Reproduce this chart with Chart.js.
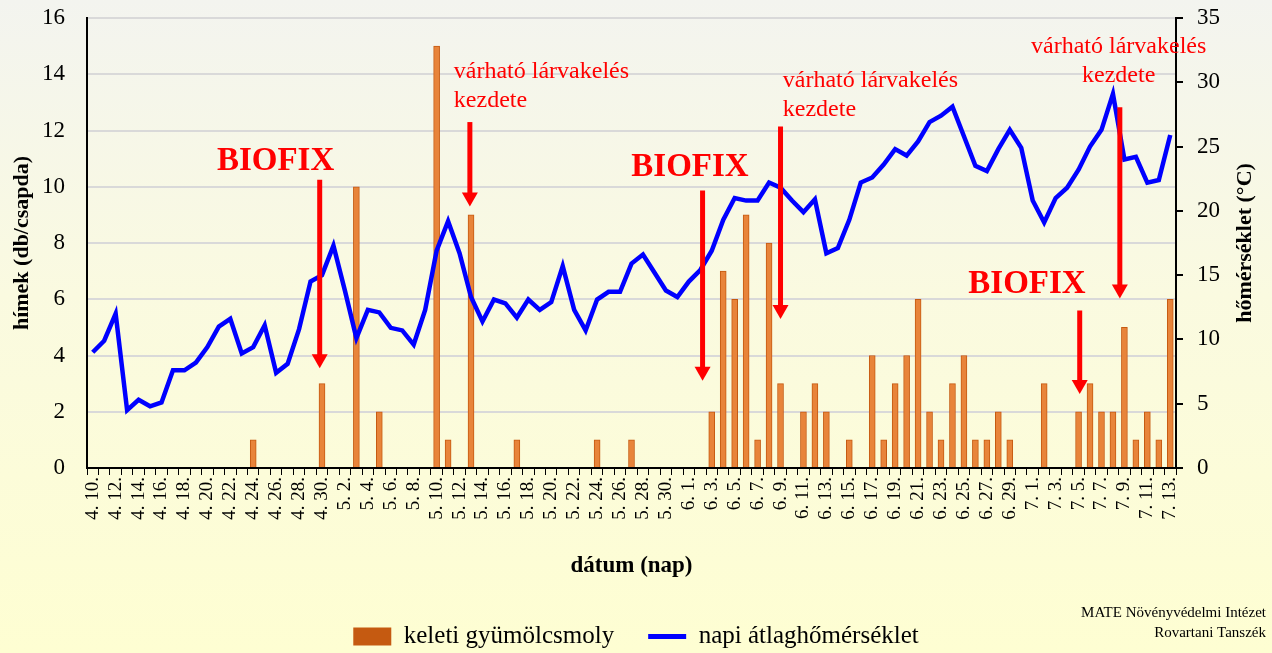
<!DOCTYPE html>
<html>
<head>
<meta charset="utf-8">
<script src="https://cdn.jsdelivr.net/npm/chart.js@4"></script>
<style>
  html, body { margin: 0; padding: 0; background: #fbfbe0; }
  #myChart { display: block; }
</style>
</head>
<body>
<canvas id="myChart" width="1272" height="653"></canvas>
<script>
// dátum (nap) - napi kategóriák
var dates = [
  '4. 10.', '4. 11.', '4. 12.', '4. 13.', '4. 14.', '4. 15.', '4. 16.', '4. 17.', '4. 18.', '4. 19.',
  '4. 20.', '4. 21.', '4. 22.', '4. 23.', '4. 24.', '4. 25.', '4. 26.', '4. 27.', '4. 28.', '4. 29.',
  '4. 30.', '5. 1.', '5. 2.', '5. 3.', '5. 4.', '5. 5.', '5. 6.', '5. 7.', '5. 8.', '5. 9.',
  '5. 10.', '5. 11.', '5. 12.', '5. 13.', '5. 14.', '5. 15.', '5. 16.', '5. 17.', '5. 18.', '5. 19.',
  '5. 20.', '5. 21.', '5. 22.', '5. 23.', '5. 24.', '5. 25.', '5. 26.', '5. 27.', '5. 28.', '5. 29.',
  '5. 30.', '5. 31.', '6. 1.', '6. 2.', '6. 3.', '6. 4.', '6. 5.', '6. 6.', '6. 7.', '6. 8.',
  '6. 9.', '6. 10.', '6. 11.', '6. 12.', '6. 13.', '6. 14.', '6. 15.', '6. 16.', '6. 17.', '6. 18.',
  '6. 19.', '6. 20.', '6. 21.', '6. 22.', '6. 23.', '6. 24.', '6. 25.', '6. 26.', '6. 27.', '6. 28.',
  '6. 29.', '6. 30.', '7. 1.', '7. 2.', '7. 3.', '7. 4.', '7. 5.', '7. 6.', '7. 7.', '7. 8.',
  '7. 9.', '7. 10.', '7. 11.', '7. 12.', '7. 13.'
];

// keleti gyümölcsmoly hímek (db/csapda)
var males = [
  0, 0, 0, 0, 0, 0, 0, 0, 0, 0,
  0, 0, 0, 0, 1, 0, 0, 0, 0, 0,
  3, 0, 0, 10, 0, 2, 0, 0, 0, 0,
  15, 1, 0, 9, 0, 0, 0, 1, 0, 0,
  0, 0, 0, 0, 1, 0, 0, 1, 0, 0,
  0, 0, 0, 0, 2, 7, 6, 9, 1, 8,
  3, 0, 2, 3, 2, 0, 1, 0, 4, 1,
  3, 4, 6, 2, 1, 3, 4, 1, 1, 2,
  1, 0, 0, 3, 0, 0, 2, 3, 2, 2,
  5, 1, 2, 1, 6
];

// napi átlaghőmérséklet (°C)
var temps = [
  9.0, 9.9, 12.0, 4.5, 5.3, 4.8, 5.1, 7.6, 7.6, 8.2,
  9.4, 11.0, 11.6, 8.9, 9.4, 11.1, 7.4, 8.1, 10.8, 14.5,
  15.0, 17.3, 13.8, 10.1, 12.3, 12.1, 10.9, 10.7, 9.6, 12.3,
  16.9, 19.2, 16.7, 13.3, 11.4, 13.1, 12.8, 11.7, 13.1, 12.3,
  12.9, 15.7, 12.3, 10.7, 13.1, 13.7, 13.7, 15.9, 16.6, 15.2,
  13.8, 13.3, 14.5, 15.4, 16.9, 19.3, 21.0, 20.8, 20.8, 22.2,
  21.8, 20.8, 19.9, 20.9, 16.7, 17.1, 19.3, 22.2, 22.6, 23.6,
  24.8, 24.3, 25.4, 26.9, 27.4, 28.1, 25.8, 23.5, 23.1, 24.8,
  26.3, 24.9, 20.8, 19.1, 21.0, 21.8, 23.2, 25.0, 26.3, 29.1,
  24.0, 24.2, 22.2, 22.4, 25.9
];

// nyilak: kategória index, kezdő és végérték (bal tengely)
var arrows = [
  { at: 19.8, from: 10.25, to: 3.55 },
  { at: 32.9, from: 12.3, to: 9.3 },
  { at: 53.2, from: 9.87, to: 3.1 },
  { at: 60.0, from: 12.14, to: 5.3 },
  { at: 86.1, from: 5.6, to: 2.63 },
  { at: 89.6, from: 12.83, to: 6.03 }
];

var biofixLabels = [
  { at: 15.95, y: 10.91 },
  { at: 52.1, y: 10.68 },
  { at: 81.5, y: 6.53 }
];

var larvaLabels = [
  { at: 31.5, y: 13.88, align: 'left' },
  { at: 60.2, y: 13.54, align: 'left' },
  { at: 89.5, y: 14.75, align: 'center' }
];

var serif = "'Liberation Serif', 'Times New Roman', serif";
Chart.defaults.font.family = serif;
Chart.defaults.color = '#000';

var bgPlugin = {
  id: 'bg',
  beforeDraw: function(chart) {
    var ctx = chart.ctx;
    var g = ctx.createLinearGradient(0, 0, 0, chart.height);
    g.addColorStop(0, '#f3f4ef');
    g.addColorStop(0.45, '#fafae0');
    g.addColorStop(1, '#fefed2');
    ctx.save();
    ctx.fillStyle = g;
    ctx.fillRect(0, 0, chart.width, chart.height);
    ctx.restore();
  }
};

var notesPlugin = {
  id: 'notes',
  afterDatasetsDraw: function(chart) {
    var ctx = chart.ctx;
    var xs = chart.scales.x, ys = chart.scales.y;
    ctx.save();
    ctx.fillStyle = '#ff0000';
    ctx.strokeStyle = '#ff0000';

    arrows.forEach(function(a) {
      var x = xs.getPixelForValue(a.at);
      var y0 = ys.getPixelForValue(a.from);
      var y1 = ys.getPixelForValue(a.to);
      ctx.lineWidth = 5;
      ctx.beginPath();
      ctx.moveTo(x, y0);
      ctx.lineTo(x, y1 - 12);
      ctx.stroke();
      ctx.beginPath();
      ctx.moveTo(x - 8, y1 - 14);
      ctx.lineTo(x + 8, y1 - 14);
      ctx.lineTo(x, y1);
      ctx.closePath();
      ctx.fill();
    });

    ctx.font = 'bold 33px ' + serif;
    ctx.textAlign = 'center';
    ctx.textBaseline = 'middle';
    biofixLabels.forEach(function(b) {
      ctx.fillText('BIOFIX', xs.getPixelForValue(b.at), ys.getPixelForValue(b.y));
    });

    ctx.font = '24px ' + serif;
    ctx.textBaseline = 'alphabetic';
    larvaLabels.forEach(function(l) {
      var x = xs.getPixelForValue(l.at);
      var y = ys.getPixelForValue(l.y);
      ctx.textAlign = l.align;
      ctx.fillText('várható lárvakelés', x, y);
      ctx.fillText('kezdete', x, y + 29);
    });
    ctx.restore();
  },
  afterDraw: function(chart) {
    var ctx = chart.ctx;
    var area = chart.chartArea;
    ctx.save();
    // jobb tengely címe, alulról felfelé
    ctx.fillStyle = '#000';
    ctx.font = 'bold 22px ' + serif;
    ctx.textAlign = 'center';
    ctx.textBaseline = 'middle';
    ctx.translate(1245, (area.top + area.bottom) / 2);
    ctx.rotate(-Math.PI / 2);
    ctx.fillText('hőmérséklet (°C)', 0, 0);
    ctx.restore();

    ctx.save();
    ctx.fillStyle = '#000';
    ctx.font = '15px ' + serif;
    ctx.textAlign = 'right';
    ctx.textBaseline = 'middle';
    ctx.fillText('MATE Növényvédelmi Intézet', 1266, 613);
    ctx.fillText('Rovartani Tanszék', 1266, 633);
    ctx.restore();
  }
};

// a függőleges tengelyek ne kérjenek extra helyet felül/alul
function fixVertical(width) {
  return function(s) {
    s.width = width;
    s.paddingTop = 0;
    s.paddingBottom = 0;
  };
}

var ctx = document.getElementById('myChart').getContext('2d');
var chart = new Chart(ctx, {
  type: 'bar',
  data: {
    labels: dates,
    datasets: [{
      type: 'bar',
      label: 'keleti gyümölcsmoly',
      data: males,
      yAxisID: 'y',
      order: 2,
      backgroundColor: '#e8843a',
      borderColor: '#c55a11',
      borderWidth: { left: 1, right: 1, top: 1, bottom: 0 },
      barThickness: 6,
      pointStyle: 'rect'
    }, {
      type: 'line',
      label: 'napi átlaghőmérséklet',
      data: temps,
      yAxisID: 'y1',
      order: 1,
      borderColor: '#0000ff',
      backgroundColor: '#0000ff',
      borderWidth: 4.5,
      pointRadius: 0,
      tension: 0,
      fill: false,
      pointStyle: 'line'
    }]
  },
  options: {
    responsive: false,
    animation: false,
    devicePixelRatio: 1,
    layout: { padding: { top: 18, left: 0, right: 0, bottom: -6 } },
    plugins: {
      legend: {
        position: 'bottom',
        labels: {
          usePointStyle: true,
          pointStyleWidth: 38,
          boxHeight: 18,
          padding: 34,
          color: '#000',
          font: { size: 25, family: serif },
          generateLabels: function(chart) {
            var items = Chart.defaults.plugins.legend.labels.generateLabels(chart);
            items.sort(function(a, b) { return a.datasetIndex - b.datasetIndex; });
            items.forEach(function(it) {
              if (it.datasetIndex === 0) {
                it.fillStyle = '#c55a11';
                it.strokeStyle = '#c55a11';
                it.lineWidth = 0;
                it.pointStyle = 'rect';
              } else {
                it.strokeStyle = '#0000ff';
                it.fillStyle = '#0000ff';
                it.lineWidth = 5;
                it.pointStyle = 'line';
              }
            });
            return items;
          }
        }
      },
      tooltip: { enabled: false }
    },
    scales: {
      x: {
        offset: true,
        grid: {
          offset: true,
          drawOnChartArea: false,
          drawTicks: true,
          tickLength: 7,
          color: '#000',
          lineWidth: 1
        },
        border: { color: '#000', width: 2 },
        ticks: {
          autoSkip: false,
          minRotation: 90,
          maxRotation: 90,
          padding: 2,
          color: '#000',
          font: { size: 19, family: serif },
          callback: function(v, i) { return i % 2 === 0 ? dates[i] : ''; }
        },
        title: {
          display: true,
          text: 'dátum (nap)',
          color: '#000',
          font: { size: 23, weight: 'bold', family: serif },
          padding: { top: 0, bottom: 10 }
        },
        afterFit: function(s) { s.height = 122; }
      },
      y: {
        position: 'left',
        min: 0,
        max: 16,
        ticks: {
          stepSize: 2,
          padding: 22,
          color: '#000',
          font: { size: 23, family: serif }
        },
        grid: { color: '#d9d9d9', lineWidth: 2, drawTicks: false },
        border: { color: '#000', width: 2 },
        title: {
          display: true,
          text: 'hímek (db/csapda)',
          color: '#000',
          font: { size: 22, weight: 'bold', family: serif },
          padding: { top: 9, bottom: 0 }
        },
        afterFit: fixVertical(87)
      },
      y1: {
        position: 'right',
        min: 0,
        max: 35,
        ticks: {
          stepSize: 5,
          padding: 14,
          color: '#000',
          font: { size: 23, family: serif }
        },
        grid: { drawOnChartArea: false, drawTicks: true, tickLength: 7, color: '#000', lineWidth: 2 },
        border: { color: '#000', width: 2 },
        afterFit: fixVertical(96)
      }
    }
  },
  plugins: [bgPlugin, notesPlugin]
});
</script>
</body>
</html>
